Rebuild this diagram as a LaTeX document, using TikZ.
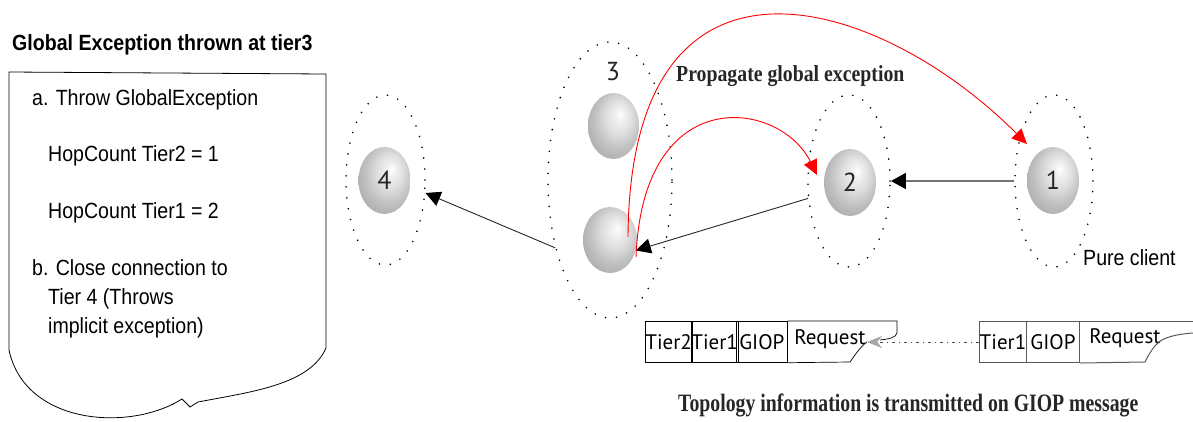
\documentclass[tikz,border=0pt]{standalone}
\usepackage{fontspec}
\setmainfont{Liberation Sans}
\newfontfamily\ptsans{PT Sans}
\newfontfamily\narrowsans[FakeStretch=0.89]{Liberation Sans}
\newfontfamily\condserifA[FakeStretch=0.86]{Liberation Serif}
\newfontfamily\condserifB[FakeStretch=0.79]{Liberation Serif}
\usetikzlibrary{shapes.geometric,arrows.meta,calc}
\pgfdeclareradialshading{sphshade}{\pgfqpoint{7bp}{9bp}}{color(0bp)=(white); color(5bp)=(white!94!black); color(13bp)=(black!13); color(22bp)=(black!24); color(32bp)=(black!33); color(50bp)=(black!38)}
\begin{document}
\begin{tikzpicture}[x=1pt,y=-1pt,
  tierell/.style={ellipse, draw=black, line width=1.8pt, dash pattern=on 0pt off 11pt, line cap=round, inner sep=0pt},
  sphere/.style={ellipse, shade, shading=sphshade, inner sep=0pt, font=\ptsans\fontsize{26}{26}\selectfont, text=black!85},
  boxtxt/.style={anchor=base west, inner sep=0pt, font=\narrowsans\fontsize{22}{24}\selectfont},
  cell/.style={draw=black, line width=0.7pt, minimum height=41pt, inner sep=0pt, anchor=north west, font=\ptsans\fontsize{21}{21}\selectfont},
  cellb/.style={cell, draw=black!65, line width=1pt},
  celltxt/.style={inner sep=0pt, font=\ptsans\fontsize{21}{21}\selectfont},
  blkarrow/.style={-{Triangle[length=15pt,width=15pt,color=black]}, line width=0.9pt, draw=black!85},
  grayarrow/.style={-{Triangle[length=15pt,width=16pt,color=black]}, line width=1.6pt, draw=black!55},
  redarrow/.style={-{Triangle[length=15pt,width=14pt,color=red]}, line width=0.9pt, draw=red},
  msgarrow/.style={-{Stealth[length=15pt,width=12pt,color=black!35]}, line width=0.6pt, draw=black!70, dash pattern=on 3pt off 4pt on 1pt off 4pt},
  captxt/.style={anchor=base west, inner sep=0pt, font=\condserifA\bfseries\fontsize{23}{23}\selectfont, text=black!85}
]
\useasboundingbox (0,0) rectangle (1193,421);

% left document shape
\node[anchor=base west, inner sep=0pt, font=\narrowsans\bfseries\fontsize{22}{24}\selectfont] (title) at (12,50) {Global Exception thrown at tier3};
\draw[line width=0.8pt] (9,72) -- (326,74) -- (326,348)
  .. controls (310,385) and (250,392) .. (198,402) -- (190,407) -- (182,399)
  .. controls (130,432) and (25,425) .. (9,350) -- cycle;
\node[boxtxt] (ta) at (32,105) {a. Throw GlobalException};
\node[boxtxt] (tb) at (48,161.5) {HopCount Tier2 = 1};
\node[boxtxt] (tc) at (48,218) {HopCount Tier1 = 2};
\node[boxtxt] (td) at (32,275) {b. Close connection to};
\node[boxtxt] (te) at (48,304) {Tier 4 (Throws};
\node[boxtxt] (tf) at (48,333) {implicit exception)};

% tier ellipses
\node[tierell, minimum width=79pt, minimum height=170pt] (e4) at (385.5,180) {};
\node[tierell, minimum width=124pt, minimum height=276pt] (e3) at (610,180) {};
\node[tierell, minimum width=82pt, minimum height=172pt] (e2) at (849,181) {};
\node[tierell, minimum width=78pt, minimum height=172pt] (e1) at (1054,181) {};

% spheres
\node[sphere, minimum width=52pt, minimum height=67pt] (s4) at (384.5,180.5) {4};
\node[sphere, minimum width=51pt, minimum height=66pt] (s3a) at (613.5,126) {};
\node[sphere, minimum width=54pt, minimum height=66pt] (s3b) at (610,240) {};
\node[sphere, minimum width=52pt, minimum height=67pt] (s2) at (850,182.5) {2};
\node[sphere, minimum width=52pt, minimum height=67pt] (s1) at (1053,180.5) {1};
\node[inner sep=0pt, font=\ptsans\fontsize{26}{26}\selectfont, text=black!85] (l3) at (613,72) {3};
\node[anchor=west, inner sep=0pt, font=\narrowsans\fontsize{22}{24}\selectfont] (pc) at (1083,258) {Pure client};

% black connectors
\draw[grayarrow] (e1.west) -- (e2.east);
\draw[blkarrow] (e2.203) -- (s3b.-22);
\draw[blkarrow] (e3.231) -- (e4.-18);

% red connectors
\coordinate (rs1) at ($(s3b.center)+(18,-3)$);
\coordinate (rs2) at ($(s3b.center)+(26,17)$);
\coordinate (r2tip) at ($(s2.center)+(-33,-7.5)$);
\coordinate (r1tip) at ($(s1.center)+(-26,-36.5)$);
\draw[redarrow] (rs1) .. controls (630,-80) and (877,-6) .. (r1tip);
\draw[redarrow] (rs2) .. controls (643,80) and (780,100) .. (r2tip);
\node[captxt] (prop) at (676,81.5) {Propagate global exception};

% message 1
\node[cell, minimum width=46pt] (b1c1) at (645,321) {Tier2};
\node[cell, minimum width=45pt] (b1c2) at (691,321) {Tier1};
\node[cell, minimum width=51pt] (b1c3) at (736,321) {GIOP};
\node[celltxt] (b1req) at (830,339) {Request};
\coordinate (tearA) at (867,342);
\draw[line width=0.7pt] (b1c3.north east) -- (897,321) -- (897,333) .. controls (896,338) and (888,339) .. (880,340);
\draw[line width=0.7pt] (tearA) .. controls (860,347) and (855,355) .. (850,362) -- (b1c3.south east);

% message 2
\node[cellb, minimum width=47pt] (b2c1) at (979,321) {Tier1};
\node[cellb, minimum width=53pt] (b2c2) at (1026,321) {GIOP};
\node[celltxt] (b2req) at (1125,338) {Request};
\draw[draw=black!65, line width=1pt] (b2c2.north east) -- (1193,321);
\draw[draw=black!65, line width=1pt] (1193,333) .. controls (1178,334) and (1165,337) .. (1159,342)
  .. controls (1152,348) and (1148,356) .. (1145,362) -- (b2c2.south east);

\draw[msgarrow] (b2c1.west) -- (tearA);

\node[captxt, font=\condserifB\bfseries\fontsize{25}{25}\selectfont] (topo) at (678,411.5) {Topology information is transmitted on GIOP message};
\end{tikzpicture}
\end{document}
